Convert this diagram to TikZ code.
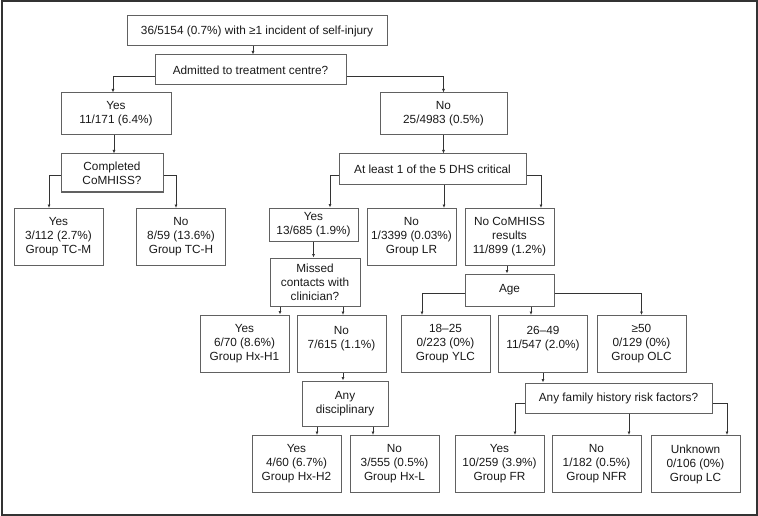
\documentclass[tikz,border=0pt]{standalone}
\usepackage{fontspec}
\setmainfont{Liberation Sans}
\usetikzlibrary{arrows.meta}

\begin{document}
\begin{tikzpicture}[
  x=1pt, y=-1pt,
  every node/.style={font=\fontsize{11.8}{14}\selectfont, text=black!90},
  b/.style 2 args={draw=black!62, line width=1pt, rectangle, align=center,
    inner sep=0pt, minimum width=#1, minimum height=#2},
  g/.style={b={89pt}{57pt}},
  arr/.style={draw=black!80, line width=0.8pt, -{Latex[length=3.5pt,width=3pt]}}
]
  \useasboundingbox (0,0) rectangle (758,516);
  \draw[black!80, line width=2pt] (1.5,1.5) rectangle (756.5,514.5);

  % first split
  \node[b={260pt}{30pt}] (top) at (257,31) {36/5154 (0.7\%) with ≥1 incident of self-injury};
  \node[b={191pt}{30pt}] (adm) at (250.5,70) {Admitted to treatment centre?};
  \node[b={110pt}{42pt}] (yes1) at (116,114) {Yes\\11/171 (6.4\%)};
  \node[b={127pt}{42pt}] (no1) at (443.5,114) {No\\25/4983 (0.5\%)};

  % treatment centre branch
  \node[b={102pt}{38pt}] (compl) at (112,173) {Completed\\CoMHISS?};
  \node[g] (tcm) at (58.5,237) {Yes\\3/112 (2.7\%)\\Group TC-M};
  \node[g] (tch) at (181,237) {No\\8/59 (13.6\%)\\Group TC-H};

  % DHS branch
  \node[b={187pt}{31pt}] (dhs) at (432.5,169.5) {At least 1 of the 5 DHS critical};
  \node[b={89pt}{33pt}] (yes2) at (313.5,224.5) {Yes\\13/685 (1.9\%)};
  \node[g] (lr) at (411.5,237) {No\\1/3399 (0.03\%)\\Group LR};
  \node[g] (nocom) at (509.5,237) {No CoMHISS\\results\\11/899 (1.2\%)};

  \node[b={90pt}{48pt}] (miss) at (315,282) {Missed\\contacts with\\clinician?};
  \node[g] (hx1) at (244.5,343.5) {Yes\\6/70 (8.6\%)\\Group Hx-H1};
  \node[g] (no3) at (341.5,344) {No\\7/615 (1.1\%)\\~};
  \node[b={86pt}{45pt}] (disc) at (345,403.5) {Any\\disciplinary};
  \node[g] (hx2) at (296.5,464) {Yes\\4/60 (6.7\%)\\Group Hx-H2};
  \node[g] (hxl) at (394.5,464) {No\\3/555 (0.5\%)\\Group Hx-L};

  % age branch
  \node[b={89pt}{32pt}] (age) at (509.5,290) {Age};
  \node[g] (ylc) at (445.5,344) {18–25\\0/223 (0\%)\\Group YLC};
  \node[g] (mid) at (543,344) {26–49\\11/547 (2.0\%)\\~};
  \node[g] (olc) at (641.5,344) {≥50\\0/129 (0\%)\\Group OLC};

  \node[b={187pt}{30pt}] (fam) at (618.5,398) {Any family history risk factors?};
  \node[g] (fr) at (499.5,464) {Yes\\10/259 (3.9\%)\\Group FR};
  \node[g] (nfr) at (596.5,464) {No\\1/182 (0.5\%)\\Group NFR};
  \node[g] (lc) at (695.5,464) {Unknown\\0/106 (0\%)\\Group LC};

  % connectors
  \draw[arr] ([xshift=-4pt]top.south) -- ([xshift=-4pt]top.south |- adm.north);
  \draw[arr] ([yshift=-6pt]adm.west) -| ([xshift=-3pt]yes1.north);
  \draw[arr] ([yshift=-6pt]adm.east) -| (no1.north);
  \draw[arr] ([xshift=-2pt]yes1.south) -- ([xshift=-2pt]yes1.south |- compl.north);
  \draw[arr] ([yshift=-2pt]compl.west) -| ([xshift=-9.5pt]tcm.north);
  \draw[arr] ([yshift=-2pt]compl.east) -| ([xshift=-5pt]tch.north);
  \draw[arr] (no1.south) -- (no1.south |- dhs.north);
  \draw[arr] ([yshift=-5.5pt]dhs.west) -| ([xshift=16.5pt]yes2.north);
  \draw[arr] ([xshift=11.5pt]dhs.south) -- ([xshift=11.5pt]dhs.south |- lr.north);
  \draw[arr] ([yshift=-5.5pt]dhs.east) -| ([xshift=31.5pt]nocom.north);
  \draw[arr] (yes2.south) -- (yes2.south |- miss.north);
  \draw[arr] ([xshift=-35pt]miss.south) -- ([xshift=-35pt]miss.south |- hx1.north);
  \draw[arr] ([xshift=28pt]miss.south) -- ([xshift=28pt]miss.south |- no3.north);
  \draw[arr] ([xshift=1.5pt]no3.south) -- ([xshift=1.5pt]no3.south |- disc.north);
  \draw[arr] ([xshift=-28pt]disc.south) -- ([xshift=-28pt]disc.south |- hx2.north);
  \draw[arr] ([xshift=28pt]disc.south) -- ([xshift=28pt]disc.south |- hxl.north);
  \draw[arr] ([xshift=-2.5pt]nocom.south) -- ([xshift=-2.5pt]nocom.south |- age.north);
  \draw[arr] ([yshift=-3pt]age.west) -| ([xshift=-23.5pt]ylc.north);
  \draw[arr] ([xshift=21.5pt]age.south) -- ([xshift=21.5pt]age.south |- mid.north);
  \draw[arr] ([yshift=-3pt]age.east) -| (olc.north);
  \draw[arr] (mid.south) -- (mid.south |- fam.north);
  \draw[arr] ([yshift=-5pt]fam.west) -| ([xshift=15.5pt]fr.north);
  \draw[arr] ([xshift=10.5pt]fam.south) -- ([xshift=10.5pt]fam.south |- nfr.north);
  \draw[arr] ([yshift=-5pt]fam.east) -| ([xshift=31.5pt]lc.north);
\end{tikzpicture}
\end{document}
